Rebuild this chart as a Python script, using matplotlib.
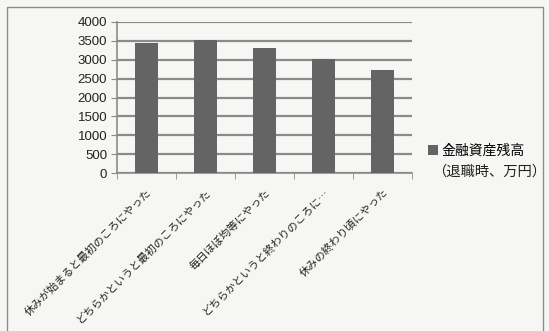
import matplotlib.pyplot as plt
from matplotlib.patches import Rectangle
import numpy as np

plt.rcParams['font.family'] = ['Noto Sans CJK JP', 'DejaVu Sans']

# データ
categories = ['休みが始まると最初のころにやった',
              'どちらかというと最初のころにやった',
              '毎日ほぼ均等にやった',
              'どちらかというと終わりのころに…',
              '休みの終わり頃にやった']
values = [3440, 3530, 3310, 3010, 2720]
series_name = '金融資産残高'
series_note = '（退職時、万円）'
y_ticks = list(range(0, 4001, 500))

bg = '#f6f6f4'
bar_color = '#646464'
grid_color = '#8a8a8a'

fig = plt.figure(figsize=(5.49, 3.31), dpi=100, facecolor=bg)
ax = fig.add_axes([0.2131, 0.4764, 0.5374, 0.4580])
ax.set_facecolor(bg)

x = np.arange(len(categories))
bars = ax.bar(x, values, width=0.4, color=bar_color, label=series_name, zorder=3)

ax.set_xlim(-0.5, len(categories) - 0.5)
ax.set_ylim(0, 4000)
ax.set_yticks(y_ticks)
ax.set_yticklabels([str(t) for t in y_ticks], family='Liberation Sans', fontsize=9.5)
ax.yaxis.grid(True, color=grid_color, linewidth=1.6, zorder=0)
ax.tick_params(axis='y', length=4, color=grid_color, pad=3, labelcolor='#222222')

ax.set_xticks(x)
ax.set_xticklabels(categories, rotation=45, ha='right', rotation_mode='anchor',
                   fontsize=7.8, color='#222222')
ax.tick_params(axis='x', which='major', length=0, pad=10)
ax.set_xticks(np.arange(-0.5, len(categories)), minor=True)
ax.tick_params(axis='x', which='minor', length=4, color=grid_color)

for side in ['top', 'right']:
    ax.spines[side].set_visible(False)
for side in ['left', 'bottom']:
    ax.spines[side].set_color(grid_color)
    ax.spines[side].set_linewidth(1.2)

# 凡例
fig.legend(handles=[bars], labels=[series_name], loc='center left',
           bbox_to_anchor=(428 / 549, 1 - 151 / 331), frameon=False,
           fontsize=10, handlelength=0.7, handleheight=0.7, handletextpad=0.3,
           borderpad=0, borderaxespad=0)
fig.text(432 / 549, 1 - 172 / 331, series_note, fontsize=10.3, va='center', ha='left',
         color='#222222')

# 外枠
frame = Rectangle((7 / 549, -0.1), (543 - 7) / 549, 1 - 7 / 331 + 0.1,
                  transform=fig.transFigure, fill=False, edgecolor='#8c8c8c',
                  linewidth=1.0, clip_on=False)
fig.patches.append(frame)

fig.savefig('out.png', dpi=100, facecolor=bg)
